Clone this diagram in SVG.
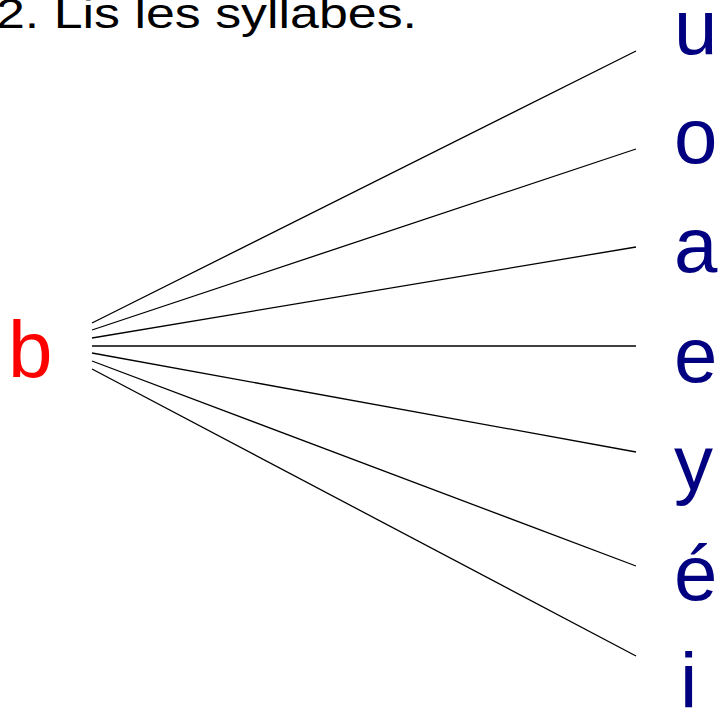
<svg xmlns="http://www.w3.org/2000/svg" width="718" height="711" viewBox="0 0 718 711">
<style>
.v{font-family:"Liberation Sans",Arial,sans-serif;font-size:78px;fill:#000080}
.c line{stroke:#000;stroke-width:1.3}
</style>
<rect width="718" height="711" fill="#fff"/>
<text id="title" x="-4" y="28" font-family="Liberation Sans, Arial, sans-serif" font-size="43" textLength="421" lengthAdjust="spacingAndGlyphs" fill="#000">2. Lis les syllabes.</text>
<g id="node-b"><text x="8" y="377" font-family="Liberation Sans, Arial, sans-serif" font-size="80" fill="#ff0000">b</text></g>
<g id="node-u"><text class="v" x="674" y="54">u</text></g>
<g id="node-o"><text class="v" x="674" y="163">o</text></g>
<g id="node-a"><text class="v" x="674" y="272">a</text></g>
<g id="node-e"><text class="v" x="674" y="382">e</text></g>
<g id="node-y"><text class="v" x="674" y="490">y</text></g>
<g id="node-eacute"><text class="v" x="674" y="600">é</text></g>
<g id="node-i"><text class="v" x="680" y="708">i</text></g>
<g id="connectors" class="c">
<line x1="92" y1="323" x2="636" y2="51"/>
<line x1="92" y1="330" x2="636" y2="149"/>
<line x1="92" y1="338" x2="636" y2="247"/>
<line x1="92" y1="346" x2="636" y2="346"/>
<line x1="92" y1="353" x2="636" y2="452"/>
<line x1="92" y1="361" x2="636" y2="566"/>
<line x1="92" y1="369" x2="636" y2="656"/>
</g>
</svg>
